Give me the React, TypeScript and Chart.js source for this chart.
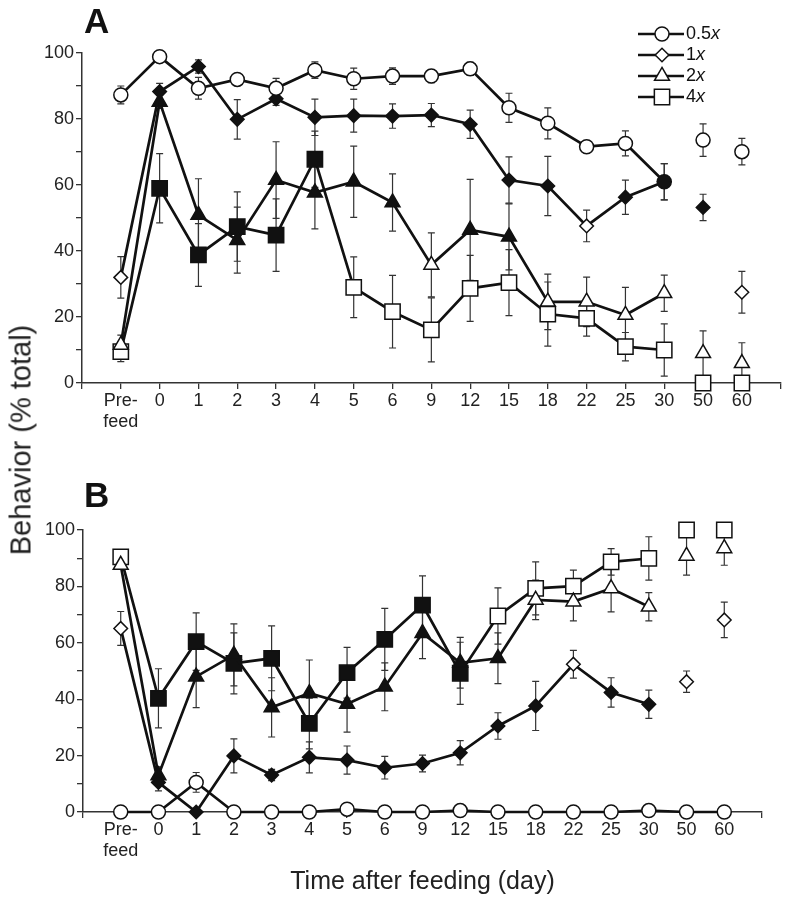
import React, { useEffect, useRef } from 'react';
import { Chart, registerables } from 'chart.js';
import { drawPoint } from 'chart.js/helpers';

Chart.register(...registerables);

// ---------- data ----------
const categories = ['Pre-feed', '0', '1', '2', '3', '4', '5', '6', '9', '12', '15', '18', '22', '25', '30', '50', '60'];
const seriesLabels = ['0.5x', '1x', '2x', '4x'];

// Panel A
const a05 = [87.3, 98.9, 89.3, 92, 89.3, 94.8, 92.2, 93, 93, 95.2, 83.4, 78.7, 71.6, 72.6, 61, 73.6, 70.1];
const a05Err = [2.7, 1, 3.3, 1.5, 3, 2.5, 3.2, 2.5, 2, 2, 4.4, 4.7, 1.5, 3.8, 5.5, 4.9, 4];
const a05Sig = [0, 0, 0, 0, 0, 0, 0, 0, 0, 0, 0, 0, 0, 0, 1, 0, 0];
const a1 = [32, 88.3, 95.9, 79.9, 86.1, 80.5, 81, 80.9, 81.2, 78.4, 61.5, 59.7, 47.6, 56.3, 61, 53.2, 27.5];
const a1Err = [6.3, 2.5, 2, 6, 2, 5.5, 5, 3.7, 3.5, 4.3, 7, 9, 4.8, 5.2, 5.5, 4, 6.3];
const a1Sig = [0, 1, 1, 1, 1, 1, 1, 1, 1, 1, 1, 1, 0, 1, 1, 1, 0];
const a2 = [11.5, 85.2, 50.9, 43.3, 61.5, 57.7, 61, 54.7, 35.8, 46.4, 44.3, 24.6, 24.6, 20.6, 27.2, 9, 6];
const a2Err = [3, 2, 11, 10, 11.6, 11, 10.8, 8.7, 9.7, 15.3, 10, 8.4, 7.5, 8.4, 5.5, 6.8, 6.2];
const a2Sig = [0, 1, 1, 1, 1, 1, 1, 1, 0, 1, 1, 0, 0, 0, 0, 0, 0];
const a4 = [9.5, 59, 38.8, 47.4, 44.8, 67.8, 29, 21.6, 16.1, 28.7, 30.4, 20.9, 19.6, 11, 10, 0, 0];
const a4Err = [3, 10.5, 9.5, 10.5, 11, 8.5, 9.2, 11, 9.7, 10, 10, 9.7, 5.4, 4.3, 7.9, 0, 0];
const a4Sig = [0, 1, 1, 1, 1, 1, 0, 0, 0, 0, 0, 0, 0, 0, 0, 0, 0];

// Panel B
const b05 = [0, 0, 10.5, 0, 0, 0, 1, 0, 0, 0.5, 0, 0, 0, 0, 0.5, 0, 0];
const b05Err = [0, 0, 3.5, 0, 0, 0, 0, 0, 0, 0, 0, 0, 0, 0, 0, 0, 0];
const b05Sig = [0, 0, 0, 0, 0, 0, 0, 0, 0, 0, 0, 0, 0, 0, 0, 0, 0];
const b1 = [65.1, 10.5, 0, 19.9, 13.1, 19.4, 18.4, 15.7, 17.2, 21, 30.5, 37.6, 52.4, 42.4, 38.2, 46.2, 68.1];
const b1Err = [6, 3, 0, 6, 2, 5.5, 5, 4, 3, 4.3, 4.7, 8.7, 4.9, 5.2, 5, 3.8, 6.3];
const b1Sig = [0, 1, 1, 1, 1, 1, 1, 1, 1, 1, 1, 1, 0, 1, 1, 0, 0];
const b2 = [87.6, 13, 48, 55.7, 37.1, 42.1, 38.3, 44.4, 63.4, 52.9, 54.5, 75.2, 74.6, 79.3, 72.8, 90.8, 93.5];
const b2Err = [1.5, 3, 11, 11, 10.5, 11.8, 10, 8.5, 9, 9, 9, 7, 6.8, 8.3, 5, 6.8, 6];
const b2Sig = [0, 1, 1, 1, 1, 1, 1, 1, 1, 1, 1, 0, 0, 0, 0, 0, 0];
const b4 = [90.5, 40.3, 60.4, 52.7, 54.5, 31.4, 49.4, 61.2, 73.4, 49.2, 69.5, 79.3, 80.1, 88.7, 89.9, 100, 100];
const b4Err = [2.4, 10.5, 10.2, 10.8, 11.5, 9, 9, 11, 10.3, 11, 10, 9.4, 5.7, 4.7, 7.7, 0, 0];
const b4Sig = [0, 1, 1, 1, 1, 1, 1, 1, 1, 1, 0, 0, 0, 0, 0, 0, 0];

const yTicks = [0, 20, 40, 60, 80, 100];

// ---------- styling ----------
const FONT = "'Liberation Sans', Arial, Helvetica, sans-serif";
const INK = '#111';
const AXIS = '#333';
const pointStyles = ['circle', 'rectRot', 'triangle', 'rect'];
const pointRadii = [7, 6.8, 8.6, 10.8];

Chart.defaults.font.family = FONT;

const errorBarPlugin = {
  id: 'errorBars',
  beforeDatasetsDraw(chart: any) {
    const ctx = chart.ctx;
    const yScale = chart.scales.y;
    ctx.save();
    ctx.strokeStyle = AXIS;
    ctx.lineWidth = 1.2;
    chart.data.datasets.forEach((ds: any, di: number) => {
      const meta = chart.getDatasetMeta(di);
      const errs = ds.errors as number[];
      if (!errs) return;
      meta.data.forEach((pt: any, i: number) => {
        const e = errs[i];
        const v = ds.data[i].y;
        if (!e || v == null) return;
        const x = pt.x;
        const yTop = yScale.getPixelForValue(v + e);
        const yBot = yScale.getPixelForValue(Math.max(0, v - e));
        ctx.beginPath();
        ctx.moveTo(x, yTop);
        ctx.lineTo(x, yBot);
        ctx.moveTo(x - 3.5, yTop);
        ctx.lineTo(x + 3.5, yTop);
        ctx.moveTo(x - 3.5, yBot);
        ctx.lineTo(x + 3.5, yBot);
        ctx.stroke();
      });
    });
    ctx.restore();
  },
};

const decorPlugin = {
  id: 'decor',
  afterDraw(chart: any, _args: any, opts: any) {
    const ctx = chart.ctx;
    ctx.save();
    if (opts.letter) {
      ctx.fillStyle = INK;
      ctx.font = `bold 35px ${FONT}`;
      ctx.textBaseline = 'alphabetic';
      ctx.textAlign = 'left';
      ctx.fillText(opts.letter, opts.letterX, opts.letterY);
    }
    if (opts.legend) {
      const lx0 = 638, lx1 = 684, mx = 662, tx = 686;
      seriesLabels.forEach((lab, i) => {
        const y = 34 + i * 21;
        ctx.strokeStyle = INK;
        ctx.lineWidth = 2.5;
        ctx.beginPath();
        ctx.moveTo(lx0, y);
        ctx.lineTo(lx1, y);
        ctx.stroke();
        ctx.fillStyle = '#fff';
        ctx.strokeStyle = INK;
        ctx.lineWidth = 1.5;
        drawPoint(ctx, { pointStyle: pointStyles[i], radius: pointRadii[i], rotation: 0, borderWidth: 1.5 } as any, mx, y);
        const num = lab.slice(0, -1);
        const suf = lab.slice(-1);
        ctx.fillStyle = INK;
        ctx.textBaseline = 'middle';
        ctx.textAlign = 'left';
        ctx.font = `18px ${FONT}`;
        ctx.fillText(num, tx, y);
        const w = ctx.measureText(num).width;
        ctx.font = `italic 18px ${FONT}`;
        ctx.fillText(suf, tx + w, y);
      });
    }
    ctx.restore();
  },
};

function makeDatasets(values: number[][], errors: number[][], sig: number[][], connectTail: boolean[]) {
  return values.map((vals, s) => ({
    label: seriesLabels[s],
    data: vals.map((v, i) => ({ x: i, y: v })),
    errors: errors[s],
    borderColor: INK,
    borderWidth: 2.7,
    pointStyle: pointStyles[s],
    pointRadius: pointRadii[s],
    pointHoverRadius: pointRadii[s],
    pointBackgroundColor: sig[s].map((f) => (f ? INK : '#fff')),
    pointBorderColor: INK,
    pointBorderWidth: 1.5,
    clip: false as any,
    tension: 0,
    segment: {
      borderColor: (c: any) => (!connectTail[s] && c.p0DataIndex >= categories.length - 3 ? 'rgba(0,0,0,0)' : INK),
    },
  }));
}

function tickLabel(v: number): string | string[] {
  const i = Math.round(v);
  if (i < 0 || i >= categories.length) return '';
  const c = categories[i];
  if (c.includes('-')) {
    const k = c.indexOf('-');
    return [c.slice(0, k + 1), c.slice(k + 1)];
  }
  return c;
}

function makeConfig(datasets: any[], p: any) {
  return {
    type: 'line' as const,
    data: { datasets },
    options: {
      responsive: false,
      animation: false as const,
      events: [],
      layout: { padding: { left: 0, top: p.top, right: p.right, bottom: 0 } },
      plugins: {
        legend: { display: false },
        tooltip: { enabled: false },
        decor: { letter: p.letter, letterX: 84, letterY: p.letterY, legend: p.legend },
      },
      scales: {
        x: {
          type: 'linear' as const,
          min: -1,
          max: categories.length,
          afterBuildTicks: (s: any) => {
            s.ticks = Array.from({ length: categories.length + 2 }, (_, i) => ({ value: i - 1 }));
          },
          ticks: {
            autoSkip: false,
            maxRotation: 0,
            callback: (v: any) => tickLabel(Number(v)),
            font: { size: 18, family: FONT },
            color: '#222',
            padding: 1,
          },
          grid: { drawOnChartArea: false, tickLength: 6, color: AXIS, lineWidth: 1.3 },
          border: { color: AXIS, width: 1.5 },
          title: p.xTitle
            ? { display: true, text: p.xTitle, font: { size: 25, family: FONT }, color: '#222', padding: { top: 0, bottom: 3 } }
            : { display: false },
          afterFit: (s: any) => {
            s.height = p.xHeight;
          },
        },
        y: {
          min: 0,
          max: 100,
          afterBuildTicks: (s: any) => {
            const t: any[] = [];
            for (let v = 0; v <= 100; v += 10) t.push({ value: v });
            s.ticks = t;
          },
          ticks: {
            autoSkip: false,
            callback: (v: any) => (yTicks.includes(Number(v)) ? String(v) : ''),
            font: { size: 18, family: FONT },
            color: '#222',
            padding: 2,
          },
          grid: { drawOnChartArea: false, tickLength: 6, color: AXIS, lineWidth: 1.3 },
          border: { color: AXIS, width: 1.5 },
          afterFit: (s: any) => {
            s.width = p.yWidth;
          },
        },
      },
    },
    plugins: [errorBarPlugin, decorPlugin],
  };
}

export default function App() {
  const refA = useRef<HTMLCanvasElement>(null);
  const refB = useRef<HTMLCanvasElement>(null);

  useEffect(() => {
    const dsA = makeDatasets(
      [a05, a1, a2, a4],
      [a05Err, a1Err, a2Err, a4Err],
      [a05Sig, a1Sig, a2Sig, a4Sig],
      [false, false, false, false]
    );
    const dsB = makeDatasets(
      [b05, b1, b2, b4],
      [b05Err, b1Err, b2Err, b4Err],
      [b05Sig, b1Sig, b2Sig, b4Sig],
      [true, false, false, false]
    );
    const chartA = new Chart(
      refA.current!,
      makeConfig(dsA, { top: 53, right: 6, yWidth: 82, xHeight: 57, letter: 'A', letterY: 33, legend: true }) as any
    );
    const chartB = new Chart(
      refB.current!,
      makeConfig(dsB, {
        top: 90,
        right: 31,
        yWidth: 83,
        xHeight: 88,
        letter: 'B',
        letterY: 67,
        legend: false,
        xTitle: 'Time after feeding (day)',
      }) as any
    );
    return () => {
      chartA.destroy();
      chartB.destroy();
    };
  }, []);

  return (
    <div style={{ position: 'absolute', left: 0, top: 0, width: 793, height: 900, background: '#fff' }}>
      <canvas ref={refA} width={793} height={440} style={{ position: 'absolute', left: 0, top: 0, width: 793, height: 440 }} />
      <canvas ref={refB} width={793} height={460} style={{ position: 'absolute', left: 0, top: 440, width: 793, height: 460 }} />
      <div
        style={{
          position: 'absolute',
          left: 21,
          top: 440,
          transform: 'translate(-50%, -50%) rotate(-90deg)',
          whiteSpace: 'nowrap',
          fontFamily: FONT,
          fontSize: 29,
          color: '#222',
          lineHeight: 1,
        }}
      >
        Behavior (% total)
      </div>
    </div>
  );
}
